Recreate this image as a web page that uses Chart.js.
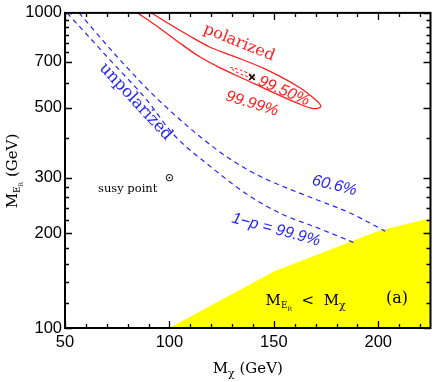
<!DOCTYPE html>
<html>
<head>
<meta charset="utf-8">
<script src="https://cdn.jsdelivr.net/npm/chart.js@4.4.1/dist/chart.umd.min.js"></script>
<style>
  html, body { margin: 0; padding: 0; background: #fff; }
  #wrap { width: 436px; height: 382px; }
</style>
</head>
<body>
<div id="wrap"><canvas id="c" width="436" height="382"></canvas></div>
<script>
// axis ticks
const xTickValues = [50, 60, 70, 80, 90, 100, 110, 120, 130, 140, 150, 160, 170, 180, 190, 200, 210, 220];
const xTickLabels = [50, 100, 150, 200];
const yTickValues = [100, 120, 140, 160, 180, 200, 220, 240, 260, 280, 300, 400, 500, 600, 700, 750, 800, 850, 900, 950, 1000];
const yTickLabels = [100, 200, 300, 500, 700, 1000];

// excluded region M_ER < M_chi
const excluded = [[100, 100], [150, 151], [200, 203], [225, 223]];

// unpolarized contours (blue dashed)
const unpol606 = [[56.7, 1000], [76.2, 711], [95.2, 526], [122.9, 367], [138.1, 316], [147.6, 294], [170, 256], [185.7, 233], [203.3, 203]];
const unpol999 = [[51, 1000], [71.4, 711], [89.5, 526], [101.4, 415], [120.5, 322], [138.1, 263], [153.8, 230], [170, 209], [188.1, 187]];

// polarized contours (red)
const pol9999 = [[84.8, 1000], [95.2, 896], [104.8, 804], [114.3, 727], [123.8, 672], [138.1, 607], [146.2, 573], [161.9, 515], [169, 497],
  [172.4, 504], [170.5, 526], [161.9, 582], [146.2, 662], [130, 732], [119, 781], [109.5, 846], [100, 922], [91.4, 1000]];
const pol9950 = [[129, 672], [132.4, 664], [136.2, 650], [139.5, 634], [141, 621], [137.6, 627], [133.8, 641], [131, 655], [129, 672]];

// points
const bestFit = [[139.5, 625]];
const susyPoint = [[100, 300]];

const RED = '#ff1c1c';
const BLUE = '#2424f4';

// text placed in data coordinates
const notes = [
  { text: 'polarized', x: 133.3, y: 804, angle: 22, color: RED, font: '16px "DejaVu Serif"' },
  { text: '99.50%', x: 154.8, y: 565, angle: 23, color: RED, font: 'italic 16px "Liberation Sans"' },
  { text: '99.99%', x: 139.5, y: 515, angle: 17, color: RED, font: 'italic 16px "Liberation Sans"' },
  { text: 'unpolarized', x: 83.8, y: 522, angle: 47, color: BLUE, font: '16.5px "DejaVu Serif"' },
  { text: '60.6%', x: 179, y: 283, angle: 14, color: BLUE, font: 'italic 16px "Liberation Sans"' },
  { text: '1\u2212p = 99.9%', x: 151, y: 205, angle: 15, color: BLUE, font: 'italic 16px "Liberation Sans"' },
  { text: 'susy point', x: 80, y: 277, angle: 0, color: '#000', font: '11.5px "DejaVu Serif"' },
  { text: '(a)', x: 209, y: 124, angle: 0, color: '#000', font: '16px "DejaVu Serif"' }
];

const toXY = arr => arr.map(p => ({ x: p[0], y: p[1] }));

function drawRich(ctx, parts, x, y) {
  let total = 0;
  parts.forEach(p => { ctx.font = p.font; p.w = ctx.measureText(p.t).width; total += p.w; });
  let cx = x - total / 2;
  parts.forEach(p => { ctx.font = p.font; ctx.fillText(p.t, cx, y + (p.dy || 0)); cx += p.w; });
}

const decorations = {
  id: 'decorations',
  afterDatasetsDraw(chart) {
    const ctx = chart.ctx;
    const xs = chart.scales.x, ys = chart.scales.y;
    ctx.save();
    notes.forEach(n => {
      ctx.save();
      ctx.translate(xs.getPixelForValue(n.x), ys.getPixelForValue(n.y));
      ctx.rotate(n.angle * Math.PI / 180);
      ctx.font = n.font;
      ctx.fillStyle = n.color;
      ctx.textAlign = 'center';
      ctx.textBaseline = 'middle';
      ctx.fillText(n.text, 0, 0);
      ctx.restore();
    });
    // label inside the excluded region
    ctx.fillStyle = '#000';
    ctx.textAlign = 'left';
    ctx.textBaseline = 'alphabetic';
    const serif = s => s + 'px "DejaVu Serif"';
    drawRich(ctx, [
      { t: 'M', font: serif(15) }, { t: 'E', font: serif(9), dy: 3 }, { t: 'R', font: serif(6), dy: 6 },
      { t: '  <  M', font: serif(15) }, { t: '\u03c7', font: serif(11), dy: 4 }
    ], xs.getPixelForValue(165.2), ys.getPixelForValue(118.5));
    ctx.restore();
  },
  afterDraw(chart) {
    const ctx = chart.ctx;
    const a = chart.chartArea;
    const xs = chart.scales.x, ys = chart.scales.y;
    ctx.save();
    ctx.strokeStyle = '#000';
    ctx.lineWidth = 1.3;
    ctx.beginPath();
    xTickValues.forEach(v => {
      const px = Math.round(xs.getPixelForValue(v)) + 0.5;
      const len = xTickLabels.includes(v) ? 7 : 4;
      ctx.moveTo(px, a.bottom); ctx.lineTo(px, a.bottom - len);
      ctx.moveTo(px, a.top); ctx.lineTo(px, a.top + len);
    });
    yTickValues.forEach(v => {
      const py = Math.round(ys.getPixelForValue(v)) + 0.5;
      const len = yTickLabels.includes(v) ? 7 : 4;
      ctx.moveTo(a.left, py); ctx.lineTo(a.left + len, py);
      ctx.moveTo(a.right, py); ctx.lineTo(a.right - len, py);
    });
    ctx.stroke();
    ctx.lineWidth = 2;
    ctx.strokeRect(a.left, a.top, a.right - a.left, a.bottom - a.top);

    // axis titles
    ctx.fillStyle = '#000';
    ctx.textBaseline = 'alphabetic';
    const serif = s => s + 'px "DejaVu Serif"';
    drawRich(ctx, [
      { t: 'M', font: serif(15) }, { t: '\u03c7', font: serif(11), dy: 4 }, { t: ' (GeV)', font: serif(15) }
    ], (a.left + a.right) / 2, 373);
    ctx.translate(17, 171);
    ctx.rotate(-Math.PI / 2);
    drawRich(ctx, [
      { t: 'M', font: serif(15) }, { t: 'E', font: serif(9), dy: 3 }, { t: 'R', font: serif(6), dy: 6 },
      { t: ' (GeV)', font: serif(15) }
    ], 0, 0);
    ctx.restore();
  }
};

const tickFont = { family: '"Liberation Sans", Arial, sans-serif', size: 16.5 };

new Chart(document.getElementById('c'), {
  type: 'scatter',
  data: {
    datasets: [
      { data: toXY(bestFit), pointStyle: 'crossRot', pointRadius: 4, borderColor: '#000', borderWidth: 1.5, showLine: false },
      { data: toXY(susyPoint), pointStyle: 'circle', pointRadius: 3.2, borderColor: '#000', backgroundColor: 'rgba(0,0,0,0)', borderWidth: 1, showLine: false },
      { data: toXY(susyPoint), pointStyle: 'circle', pointRadius: 0.9, borderColor: '#000', backgroundColor: '#000', borderWidth: 0, showLine: false },
      { data: toXY(pol9999), showLine: true, pointRadius: 0, borderColor: RED, borderWidth: 1.3, tension: 0.35, fill: false },
      { data: toXY(pol9950), showLine: true, pointRadius: 0, borderColor: RED, borderWidth: 1, borderDash: [3, 2], tension: 0.4, fill: false },
      { data: toXY(unpol606), showLine: true, pointRadius: 0, borderColor: BLUE, borderWidth: 1.2, borderDash: [5, 4], cubicInterpolationMode: 'monotone', fill: false },
      { data: toXY(unpol999), showLine: true, pointRadius: 0, borderColor: BLUE, borderWidth: 1.2, borderDash: [5, 4], cubicInterpolationMode: 'monotone', fill: false },
      { data: toXY(excluded), showLine: true, pointRadius: 0, borderWidth: 0, borderColor: 'rgba(0,0,0,0)', backgroundColor: '#ffff00', fill: 'start', tension: 0 }
    ]
  },
  options: {
    responsive: false,
    animation: false,
    events: [],
    layout: { padding: { top: 7, right: 3, left: 0, bottom: 0 } },
    plugins: { legend: { display: false }, tooltip: { enabled: false } },
    scales: {
      x: {
        type: 'linear', min: 50, max: 225,
        afterBuildTicks: s => { s.ticks = xTickValues.map(v => ({ value: v })); },
        afterFit: s => { s.height = 54; },
        grid: { display: false, drawTicks: false },
        border: { display: false },
        ticks: {
          autoSkip: false, maxRotation: 0, padding: 5, color: '#000', font: tickFont,
          callback: v => xTickLabels.includes(v) ? String(v) : ''
        }
      },
      y: {
        type: 'logarithmic', min: 100, max: 1000,
        afterBuildTicks: s => { s.ticks = yTickValues.map(v => ({ value: v })); },
        afterFit: s => { s.width = 65; },
        grid: { display: false, drawTicks: false },
        border: { display: false },
        ticks: {
          autoSkip: false, padding: 3, color: '#000', font: tickFont,
          callback: v => yTickLabels.includes(v) ? String(v) : ''
        }
      }
    }
  },
  plugins: [decorations]
});
</script>
</body>
</html>
